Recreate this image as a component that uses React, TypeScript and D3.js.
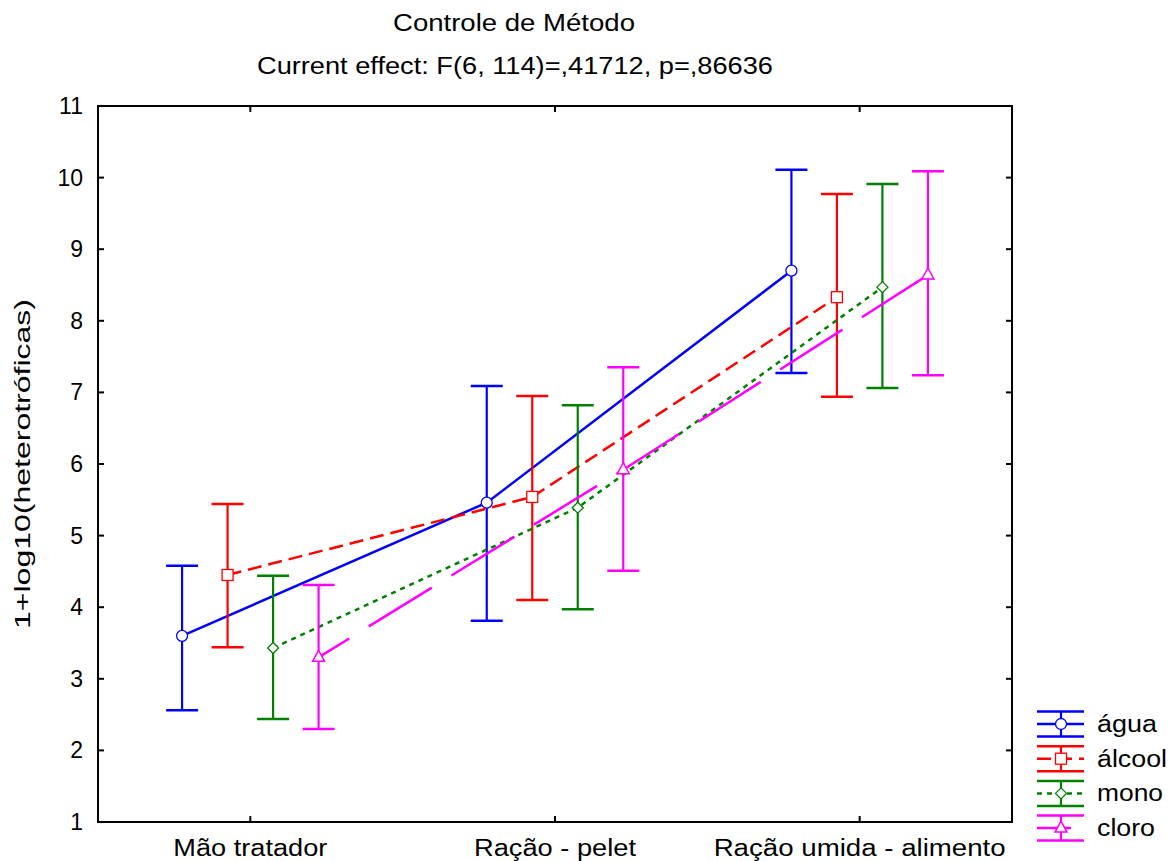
import React, { useEffect, useRef } from "react";
import * as d3 from "d3";

const categories = ["Mão tratador", "Ração - pelet", "Ração umida - alimento"];
const seriesNames = ["água", "álcool", "mono", "cloro"];
const colors = ["#0000ff", "#ff0000", "#008000", "#ff00ff"];
const dashes = ["none", "14,7", "5,5", "74,23"];
const dashOffsets = [0, 0, 0, 38];
const markers = ["circle", "square", "diamond", "triangle"];

// means and 95% limits, one array per series, one value per category
const aguaMean = [3.6, 5.46, 8.7];
const aguaLow = [2.56, 3.81, 7.27];
const aguaHigh = [4.58, 7.09, 10.11];
const alcoolMean = [4.45, 5.54, 8.33];
const alcoolLow = [3.44, 4.1, 6.94];
const alcoolHigh = [5.44, 6.95, 9.77];
const monoMean = [3.43, 5.39, 8.47];
const monoLow = [2.44, 3.97, 7.06];
const monoHigh = [4.44, 6.82, 9.91];
const cloroMean = [3.3, 5.92, 8.64];
const cloroLow = [2.3, 4.51, 7.24];
const cloroHigh = [4.31, 7.35, 10.09];

const yTicks = [1, 2, 3, 4, 5, 6, 7, 8, 9, 10, 11];

const seriesData = [
  { mean: aguaMean, low: aguaLow, high: aguaHigh },
  { mean: alcoolMean, low: alcoolLow, high: alcoolHigh },
  { mean: monoMean, low: monoLow, high: monoHigh },
  { mean: cloroMean, low: cloroLow, high: cloroHigh },
];

// widths the text takes in the picture (it is drawn a bit wide)
const catLabelWidths = [154, 162, 292];
const legendWidths = [60, 70, 66, 58];

const FONT = "'Liberation Sans', Arial, sans-serif";

function drawMarker(g: any, kind: string, x: number, y: number, color: string) {
  if (kind === "circle") {
    g.append("circle").attr("cx", x).attr("cy", y).attr("r", 5.5)
      .attr("fill", "#fff").attr("stroke", color).attr("stroke-width", 1.3);
  } else if (kind === "square") {
    g.append("rect").attr("x", x - 5.5).attr("y", y - 5.5).attr("width", 11).attr("height", 11)
      .attr("fill", "#fff").attr("stroke", color).attr("stroke-width", 1.3);
  } else if (kind === "diamond") {
    g.append("path").attr("d", `M${x},${y - 5.5}L${x + 5.5},${y}L${x},${y + 5.5}L${x - 5.5},${y}Z`)
      .attr("fill", "#fff").attr("stroke", color).attr("stroke-width", 1.3);
  } else {
    g.append("path").attr("d", `M${x},${y - 7}L${x + 6},${y + 4}L${x - 6},${y + 4}Z`)
      .attr("fill", "#fff").attr("stroke", color).attr("stroke-width", 1.5);
  }
}

export default function App() {
  const ref = useRef<SVGSVGElement>(null);

  useEffect(() => {
    const width = 1169;
    const height = 861;
    const margin = { top: 106, right: 157, bottom: 39, left: 98 };
    const innerWidth = width - margin.left - margin.right;
    const innerHeight = height - margin.top - margin.bottom;

    const svg = d3.select(ref.current);
    svg.selectAll("*").remove();
    svg.attr("width", width).attr("height", height);

    const chart = svg.append("g").attr("transform", `translate(${margin.left}, ${margin.top})`);

    const xScale = d3.scaleBand().domain(categories).range([0, innerWidth]);
    const inner = d3.scaleBand().domain(seriesNames).range([-91, 91]).paddingInner(0);
    const yScale = d3.scaleLinear().domain([1, 11]).range([innerHeight, 0]);
    const cx = (c: string) => (xScale(c) as number) + xScale.bandwidth() / 2;
    const sx = (c: string, s: string) => cx(c) + (inner(s) as number) + inner.bandwidth() / 2;

    // frame
    chart.append("rect").attr("x", 0).attr("y", 0).attr("width", innerWidth).attr("height", innerHeight)
      .attr("fill", "none").attr("stroke", "#000").attr("stroke-width", 2);

    // y ticks (inward, both sides)
    yTicks.forEach((t) => {
      const y = yScale(t);
      chart.append("line").attr("x1", 0).attr("x2", 6).attr("y1", y).attr("y2", y).attr("stroke", "#000").attr("stroke-width", 2);
      chart.append("line").attr("x1", innerWidth - 6).attr("x2", innerWidth).attr("y1", y).attr("y2", y).attr("stroke", "#000").attr("stroke-width", 2);
      chart.append("text").attr("x", -15).attr("y", y + 8).attr("text-anchor", "end")
        .style("font-family", FONT).style("font-size", "23px").text(String(t));
    });

    // x ticks
    categories.forEach((c, ci) => {
      const x = cx(c);
      chart.append("line").attr("x1", x).attr("x2", x).attr("y1", innerHeight).attr("y2", innerHeight - 6).attr("stroke", "#000").attr("stroke-width", 2);
      chart.append("line").attr("x1", x).attr("x2", x).attr("y1", 0).attr("y2", 6).attr("stroke", "#000").attr("stroke-width", 2);
      chart.append("text").attr("x", x).attr("y", innerHeight + 34).attr("text-anchor", "middle")
        .attr("textLength", catLabelWidths[ci]).attr("lengthAdjust", "spacingAndGlyphs")
        .style("font-family", FONT).style("font-size", "23px").text(c);
    });

    seriesNames.forEach((s, si) => {
      const d = seriesData[si];
      const color = colors[si];
      const g = chart.append("g");
      const lineGen = d3.line<number>()
        .x((_, i) => sx(categories[i], s))
        .y((v) => yScale(v));
      g.append("path").attr("d", lineGen(d.mean) as string)
        .attr("fill", "none").attr("stroke", color).attr("stroke-width", 2.5)
        .attr("stroke-dasharray", dashes[si]).attr("stroke-dashoffset", dashOffsets[si]);
      categories.forEach((c, ci) => {
        const x = sx(c, s);
        const yl = yScale(d.low[ci]);
        const yh = yScale(d.high[ci]);
        g.append("line").attr("x1", x).attr("x2", x).attr("y1", yh).attr("y2", yl).attr("stroke", color).attr("stroke-width", 2.2);
        g.append("line").attr("x1", x - 16).attr("x2", x + 16).attr("y1", yh).attr("y2", yh).attr("stroke", color).attr("stroke-width", 2.5);
        g.append("line").attr("x1", x - 16).attr("x2", x + 16).attr("y1", yl).attr("y2", yl).attr("stroke", color).attr("stroke-width", 2.5);
      });
      categories.forEach((c, ci) => drawMarker(g, markers[si], sx(c, s), yScale(d.mean[ci]), color));
    });

    // legend
    const legend = svg.append("g");
    seriesNames.forEach((s, si) => {
      const color = colors[si];
      const my = 724 + si * 34.7;
      const x0 = 1037;
      const x1 = 1084;
      const xm = 1061;
      legend.append("line").attr("x1", x0).attr("x2", x1).attr("y1", my - 12.5).attr("y2", my - 12.5).attr("stroke", color).attr("stroke-width", 2.5);
      legend.append("line").attr("x1", x0).attr("x2", x1).attr("y1", my + 12.5).attr("y2", my + 12.5).attr("stroke", color).attr("stroke-width", 2.5);
      legend.append("line").attr("x1", xm).attr("x2", xm).attr("y1", my - 12.5).attr("y2", my + 12.5).attr("stroke", color).attr("stroke-width", 2.2);
      legend.append("line").attr("x1", x0).attr("x2", x1).attr("y1", my).attr("y2", my).attr("stroke", color).attr("stroke-width", 2.5)
        .attr("stroke-dasharray", si === 3 ? "34,20" : dashes[si]);
      drawMarker(legend, markers[si], xm, my, color);
      legend.append("text").attr("x", 1097).attr("y", my + 8)
        .attr("textLength", legendWidths[si]).attr("lengthAdjust", "spacingAndGlyphs")
        .style("font-family", FONT).style("font-size", "23px").text(s);
    });

    // titles
    svg.append("text").attr("x", 514).attr("y", 31).attr("text-anchor", "middle")
      .attr("textLength", 242).attr("lengthAdjust", "spacingAndGlyphs")
      .style("font-family", FONT).style("font-size", "23px").text("Controle de Método");
    svg.append("text").attr("x", 515).attr("y", 74).attr("text-anchor", "middle")
      .attr("textLength", 516).attr("lengthAdjust", "spacingAndGlyphs")
      .style("font-family", FONT).style("font-size", "23px").text("Current effect: F(6, 114)=,41712, p=,86636");
    svg.append("text").attr("x", -464).attr("y", 30).attr("transform", "rotate(-90)").attr("text-anchor", "middle")
      .attr("textLength", 330).attr("lengthAdjust", "spacingAndGlyphs")
      .style("font-family", FONT).style("font-size", "22px").text("1+log10(heterotróficas)");
  }, []);

  return (
    <svg ref={ref} style={{ position: "absolute", left: 0, top: 0, background: "#fff" }}></svg>
  );
}
